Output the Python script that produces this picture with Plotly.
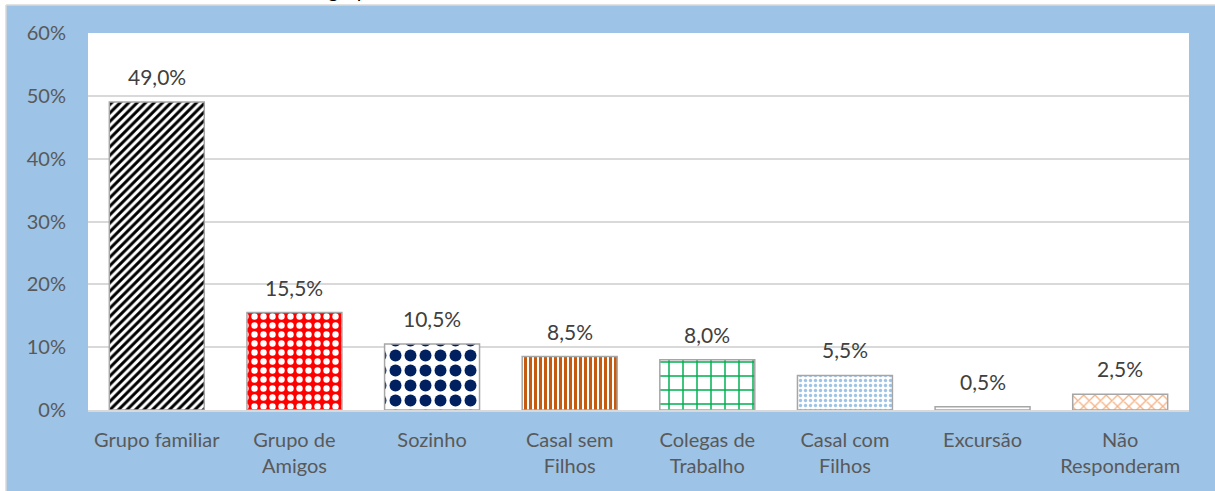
import plotly.graph_objects as go

categories = ["Grupo familiar", "Grupo de<br>Amigos", "Sozinho", "Casal sem<br>Filhos",
              "Colegas de<br>Trabalho", "Casal com<br>Filhos", "Excursão", "Não<br>Responderam"]
values = [0.49, 0.155, 0.105, 0.085, 0.08, 0.055, 0.005, 0.025]
y_ticks = [0, 0.1, 0.2, 0.3, 0.4, 0.5, 0.6]

pattern_shapes = ["/", ".", ".", "|", "+", ".", "-", "x"]
pattern_fg = ["#000000", "#FFFFFF", "#002060", "#C55A11", "#00B050", "#9DC3E6", "#404040", "#F4B183"]
pattern_bg = ["#FFFFFF", "#FF0000", "#FFFFFF", "#FFFFFF", "#FFFFFF", "#FFFFFF", "#FFFFFF", "#FFFFFF"]
pattern_size = [6, 9, 15, 5, 14, 5, 8, 8]
pattern_solid = [0.5, 0.4, 0.5, 0.6, 0.2, 0.35, 0.3, 0.3]

W, H = 1215, 491
ml, mr, mt, mb = 88, 26, 33, 81
pw, ph = W - ml - mr, H - mt - mb

fig = go.Figure()
for i, (c, v) in enumerate(zip(categories, values)):
    fig.add_trace(go.Bar(
        x=[c], y=[v], width=0.69,
        marker=dict(
            color=pattern_bg[i],
            line=dict(color="#A6A6A6", width=1.5),
            pattern=dict(shape=pattern_shapes[i], fgcolor=pattern_fg[i], fgopacity=1,
                         size=pattern_size[i], solidity=pattern_solid[i],
                         fillmode="overlay"),
        ),
        hoverinfo="skip",
    ))

font_family = "Lato, 'Open Sans', sans-serif"

annotations = []
for c, v in zip(categories, values):
    annotations.append(dict(
        x=c, y=v, xref="x", yref="y", yanchor="bottom", yshift=11,
        text=f"{v*100:.1f}%".replace(".", ","), showarrow=False,
        font=dict(family=font_family, size=21, color="#404040"),
    ))

# partially visible title at the very top (cut off by the image edge)
annotations.append(dict(
    x=(326 - ml) / pw, y=(H - mb - 4) / ph, xref="paper", yref="paper",
    xanchor="left", yanchor="bottom", text="grupo", showarrow=False,
    font=dict(family=font_family, size=20, color="#000000"),
))

shapes = [
    dict(type="rect", xref="paper", yref="paper", layer="above",
         x0=(-10 - ml) / pw, x1=(W + 10 - ml) / pw,
         y0=(H - mb - 5) / ph, y1=(H - mb + 10) / ph,
         fillcolor="#FFFFFF", line=dict(width=0)),
    dict(type="rect", xref="paper", yref="paper", layer="above",
         x0=(-10 - ml) / pw, x1=(6 - ml) / pw,
         y0=-(mb + 10) / ph, y1=(H - mb + 10) / ph,
         fillcolor="#FFFFFF", line=dict(width=0)),
    dict(type="line", xref="paper", yref="paper", layer="above",
         x0=(6 - ml) / pw, x1=(W + 10 - ml) / pw,
         y0=(H - mb - 5) / ph, y1=(H - mb - 5) / ph,
         line=dict(color="#D9D9D9", width=1.5)),
    dict(type="line", xref="paper", yref="paper", layer="above",
         x0=(6 - ml) / pw, x1=(6 - ml) / pw,
         y0=-(mb + 10) / ph, y1=(H - mb - 5) / ph,
         line=dict(color="#D9D9D9", width=1.5)),
]

fig.update_layout(
    width=W, height=H,
    margin=dict(l=ml, r=mr, t=mt, b=mb, autoexpand=False),
    paper_bgcolor="#9DC3E6", plot_bgcolor="#FFFFFF",
    separators=",.",
    showlegend=False,
    bargap=0.31,
    annotations=annotations,
    shapes=shapes,
    font=dict(family=font_family, size=20, color="#595959"),
    xaxis=dict(
        showgrid=False, showline=True, linecolor="#D9D9D9", linewidth=1.5,
        tickfont=dict(family=font_family, size=20, color="#595959"),
        ticks="", ticklabelstandoff=11, fixedrange=True, automargin=False,
    ),
    yaxis=dict(
        range=[0, 0.6], tickvals=y_ticks, tickformat=".0%",
        showgrid=True, gridcolor="#D9D9D9", gridwidth=1.5,
        zeroline=False, showline=False, ticks="",
        tickfont=dict(family=font_family, size=20, color="#595959"),
        ticklabelstandoff=21, fixedrange=True, automargin=False,
    ),
)

fig.write_html("out.html", config={"displayModeBar": False},
               post_script="document.body.style.margin='0';document.body.style.padding='0';")
